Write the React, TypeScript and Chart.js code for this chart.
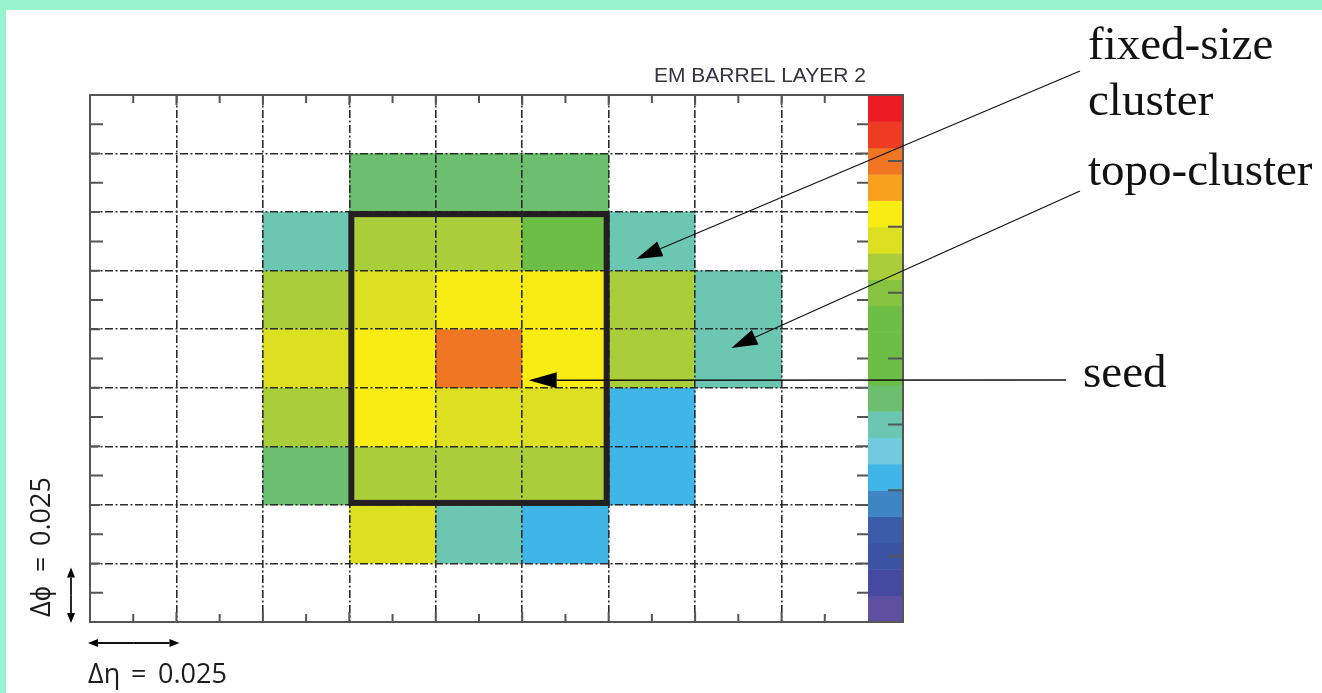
import React, { useEffect, useRef } from 'react';
import { Chart, registerables } from 'chart.js';

Chart.register(...registerables);

// ---- data ----
const etaBins = ['η1', 'η2', 'η3', 'η4', 'η5', 'η6', 'η7', 'η8', 'η9'];
const phiBinCount = 9;

// colour-scale levels, bottom (0) to top (19)
const paletteColors = [
  '#5E4FA1', '#4549A0', '#3A53A3', '#3C5BA9', '#3F84C3',
  '#3FB5E8', '#70CBDE', '#6CC7B2', '#6CBF6F', '#6CBE45',
  '#6CBE45', '#6DBE47', '#86C341', '#AACD3A', '#DCE020',
  '#F9EC13', '#F7A01E', '#F07623', '#EE3B24', '#ED1C24',
];

// cell level per row (top row first), null = empty cell
const row0: (number | null)[] = [null, null, null, null, null, null, null, null, null];
const row1: (number | null)[] = [null, null, null, 8, 8, 8, null, null, null];
const row2: (number | null)[] = [null, null, 7, 13, 13, 10, 7, null, null];
const row3: (number | null)[] = [null, null, 13, 14, 15, 15, 13, 7, null];
const row4: (number | null)[] = [null, null, 14, 15, 17, 15, 13, 7, null];
const row5: (number | null)[] = [null, null, 13, 15, 14, 14, 5, null, null];
const row6: (number | null)[] = [null, null, 8, 13, 13, 13, 5, null, null];
const row7: (number | null)[] = [null, null, null, 14, 7, 5, null, null, null];
const row8: (number | null)[] = [null, null, null, null, null, null, null, null, null];
const cellRows = [row0, row1, row2, row3, row4, row5, row6, row7, row8];

// fixed-size cluster window (column and row index ranges, rows from top)
const fixedClusterCols = [3, 5];
const fixedClusterRows = [2, 6];

const colorbarTickIntervals = 8;

const titleText = 'EM BARREL LAYER 2';
const labelFixed = ['fixed-size', 'cluster'];
const labelTopo = 'topo-cluster';
const labelSeed = 'seed';
const dEtaParts = ['Δη', '=', '0.025'];
const dPhiParts = ['Δϕ', '=', '0.025'];

// arrow tips in data coordinates [eta index, phi value]
const tipFixed = [5.82, 6.2];
const tipTopo = [6.92, 4.68];
const tipSeed = [4.575, 4.13];

const GRID_COLOR = '#2b2b2b';
const FRAME_COLOR = '#555555';

function drawArrow(ctx: CanvasRenderingContext2D, fx: number, fy: number, tx: number, ty: number, len: number, half: number, lw: number) {
  const ang = Math.atan2(ty - fy, tx - fx);
  const bx = tx - Math.cos(ang) * len;
  const by = ty - Math.sin(ang) * len;
  ctx.save();
  ctx.strokeStyle = '#111';
  ctx.lineWidth = lw;
  ctx.setLineDash([]);
  ctx.beginPath();
  ctx.moveTo(fx, fy);
  ctx.lineTo(bx, by);
  ctx.stroke();
  ctx.fillStyle = '#000';
  ctx.beginPath();
  ctx.moveTo(tx, ty);
  ctx.lineTo(bx + Math.sin(ang) * half, by - Math.cos(ang) * half);
  ctx.lineTo(bx - Math.sin(ang) * half, by + Math.cos(ang) * half);
  ctx.closePath();
  ctx.fill();
  ctx.restore();
}

function drawDoubleArrow(ctx: CanvasRenderingContext2D, x1: number, y1: number, x2: number, y2: number) {
  const mx = (x1 + x2) / 2, my = (y1 + y2) / 2;
  drawArrow(ctx, mx, my, x1, y1, 10, 4, 1.8);
  drawArrow(ctx, mx, my, x2, y2, 10, 4, 1.8);
}

const decorPlugin = {
  id: 'decor',
  beforeDraw(chart: any) {
    const ctx = chart.ctx as CanvasRenderingContext2D;
    ctx.save();
    ctx.fillStyle = '#96F5CE';
    ctx.fillRect(0, 0, chart.width, chart.height);
    ctx.fillStyle = '#FFFFFF';
    ctx.fillRect(6, 10, chart.width - 6, chart.height - 10);
    ctx.restore();
  },
  afterDraw(chart: any) {
    const ctx = chart.ctx as CanvasRenderingContext2D;
    const xs = chart.scales.x;
    const ys = chart.scales.y;
    const left = xs.left, right = xs.right, top = ys.top, bottom = ys.bottom;
    const xEdge = (i: number) => xs.getPixelForValue(i - 0.5);
    const yEdgeRow = (r: number) => ys.getPixelForValue(phiBinCount - r);
    const cbW = 35;
    const cbRight = right + cbW;

    ctx.save();
    // colour bar
    const n = paletteColors.length;
    for (let i = 0; i < n; i++) {
      const y0 = ys.getPixelForValue((i * phiBinCount) / n);
      const y1 = ys.getPixelForValue(((i + 1) * phiBinCount) / n);
      ctx.fillStyle = paletteColors[i];
      ctx.fillRect(right, y1, cbW, y0 - y1 + 0.5);
    }

    // frame
    ctx.strokeStyle = FRAME_COLOR;
    ctx.lineWidth = 2;
    ctx.setLineDash([]);
    ctx.beginPath();
    ctx.moveTo(left, top); ctx.lineTo(cbRight, top); ctx.lineTo(cbRight, bottom);
    ctx.lineTo(left, bottom); ctx.closePath();
    ctx.stroke();

    // ticks
    ctx.lineWidth = 2;
    ctx.beginPath();
    for (let i = 0; i < etaBins.length; i++) {
      const cx = xs.getPixelForValue(i);
      ctx.moveTo(cx, top); ctx.lineTo(cx, top + 8);
      ctx.moveTo(cx, bottom); ctx.lineTo(cx, bottom - 8);
      if (i > 0) {
        const ex = xEdge(i);
        ctx.moveTo(ex, top); ctx.lineTo(ex, top + 10);
        ctx.moveTo(ex, bottom); ctx.lineTo(ex, bottom - 10);
      }
    }
    for (let r = 0; r < phiBinCount; r++) {
      const cy = ys.getPixelForValue(phiBinCount - r - 0.5);
      ctx.moveTo(left, cy); ctx.lineTo(left + 13, cy);
      ctx.moveTo(right, cy); ctx.lineTo(right - 11, cy);
      if (r > 0) {
        const ey = yEdgeRow(r);
        ctx.moveTo(left, ey); ctx.lineTo(left + 10, ey);
        ctx.moveTo(right, ey); ctx.lineTo(right - 12, ey);
      }
    }
    for (let k = 0; k <= colorbarTickIntervals; k++) {
      const ty = ys.getPixelForValue((k * phiBinCount) / colorbarTickIntervals);
      ctx.moveTo(cbRight, ty); ctx.lineTo(cbRight - 15, ty);
    }
    ctx.stroke();

    // fixed-size cluster window
    const inset = 2;
    const bx0 = xEdge(fixedClusterCols[0]) + inset;
    const bx1 = xEdge(fixedClusterCols[1] + 1) - inset;
    const by0 = yEdgeRow(fixedClusterRows[0]) + inset;
    const by1 = yEdgeRow(fixedClusterRows[1] + 1) - inset;
    ctx.strokeStyle = '#231F20';
    ctx.lineWidth = 6;
    ctx.strokeRect(bx0, by0, bx1 - bx0, by1 - by0);

    // title
    ctx.fillStyle = '#34343f';
    ctx.font = '21px "Liberation Sans", Arial, sans-serif';
    ctx.textAlign = 'right';
    ctx.textBaseline = 'alphabetic';
    ctx.fillText(titleText, right - 2, top - 13);

    // annotation labels
    ctx.fillStyle = '#121212';
    ctx.textAlign = 'left';
    ctx.font = '47px "Liberation Serif", "Times New Roman", serif';
    ctx.fillText(labelFixed[0], 1088, 59);
    ctx.fillText(labelFixed[1], 1088, 115);
    ctx.fillText(labelTopo, 1088, 185);
    ctx.fillText(labelSeed, 1083, 387);

    drawArrow(ctx, 1080, 71, xs.getPixelForValue(tipFixed[0]), ys.getPixelForValue(tipFixed[1]), 26, 8, 1.2);
    drawArrow(ctx, 1080, 191, xs.getPixelForValue(tipTopo[0]), ys.getPixelForValue(tipTopo[1]), 26, 8, 1.2);
    drawArrow(ctx, 1066, 380, xs.getPixelForValue(tipSeed[0]), ys.getPixelForValue(tipSeed[1]), 28, 8, 1.5);

    // cell-size indicators
    const rowH = ys.getPixelForValue(0) - ys.getPixelForValue(1);
    const colW = xEdge(1) - xEdge(0);
    drawDoubleArrow(ctx, 71, bottom - rowH + 4, 71, bottom + 1);
    drawDoubleArrow(ctx, left - 2, bottom + 21, left - 2 + colW + 5, bottom + 21);

    ctx.fillStyle = '#1c1c1c';
    ctx.font = '500 27px "Open Sans", sans-serif';
    ctx.textAlign = 'left';
    const hx = 88, hy = 683;
    ctx.fillText(dEtaParts[0], hx, hy);
    ctx.fillText(dEtaParts[1], hx + 43, hy);
    ctx.fillText(dEtaParts[2], hx + 70, hy);

    ctx.save();
    ctx.translate(50, 617);
    ctx.rotate(-Math.PI / 2);
    ctx.fillText(dPhiParts[0], 0, 0);
    ctx.fillText(dPhiParts[1], 45, 0);
    ctx.fillText(dPhiParts[2], 71, 0);
    ctx.restore();

    ctx.restore();
  },
};

export default function App() {
  const canvasRef = useRef<HTMLCanvasElement | null>(null);

  useEffect(() => {
    const canvas = canvasRef.current;
    if (!canvas) return;

    const datasets = cellRows
      .map((row, r) => ({
        label: 'row' + r,
        data: row.map((v) => (v === null ? null : [phiBinCount - r - 1, phiBinCount - r])),
        backgroundColor: row.map((v) => (v === null ? 'rgba(0,0,0,0)' : paletteColors[v])),
        borderWidth: 0,
        grouped: false,
        barPercentage: 1,
        categoryPercentage: 1,
      }))
      .filter((d) => d.data.some((v) => v !== null));

    const dash = [8, 2.5, 2, 2.5];
    const chart = new Chart(canvas, {
      type: 'bar',
      data: { labels: etaBins, datasets: datasets as any },
      options: {
        responsive: false,
        animation: false,
        devicePixelRatio: 1,
        layout: { padding: { left: 90, top: 95, right: 454, bottom: 71 } },
        plugins: { legend: { display: false }, tooltip: { enabled: false } },
        scales: {
          x: {
            type: 'category',
            offset: true,
            ticks: { display: false },
            grid: {
              z: 1,
              offset: true,
              drawTicks: false,
              lineWidth: 1.6,
              color: (c: any) => (c.type !== 'tick' || c.index === 0 ? 'rgba(0,0,0,0)' : GRID_COLOR),
            },
            border: { display: false, dash },
          },
          y: {
            type: 'linear',
            min: 0,
            max: phiBinCount,
            ticks: { display: false, stepSize: 1 },
            grid: {
              z: 1,
              drawTicks: false,
              lineWidth: 1.6,
              color: (c: any) => (c.type !== 'tick' || c.index === 0 || c.index === phiBinCount ? 'rgba(0,0,0,0)' : GRID_COLOR),
            },
            border: { display: false, dash },
          },
        },
      } as any,
      plugins: [decorPlugin],
    });

    return () => chart.destroy();
  }, []);

  return (
    <div style={{ position: 'absolute', left: 0, top: 0, width: 1322, height: 693, overflow: 'hidden' }}>
      <canvas ref={canvasRef} width={1322} height={693} style={{ display: 'block', width: 1322, height: 693 }} />
    </div>
  );
}
